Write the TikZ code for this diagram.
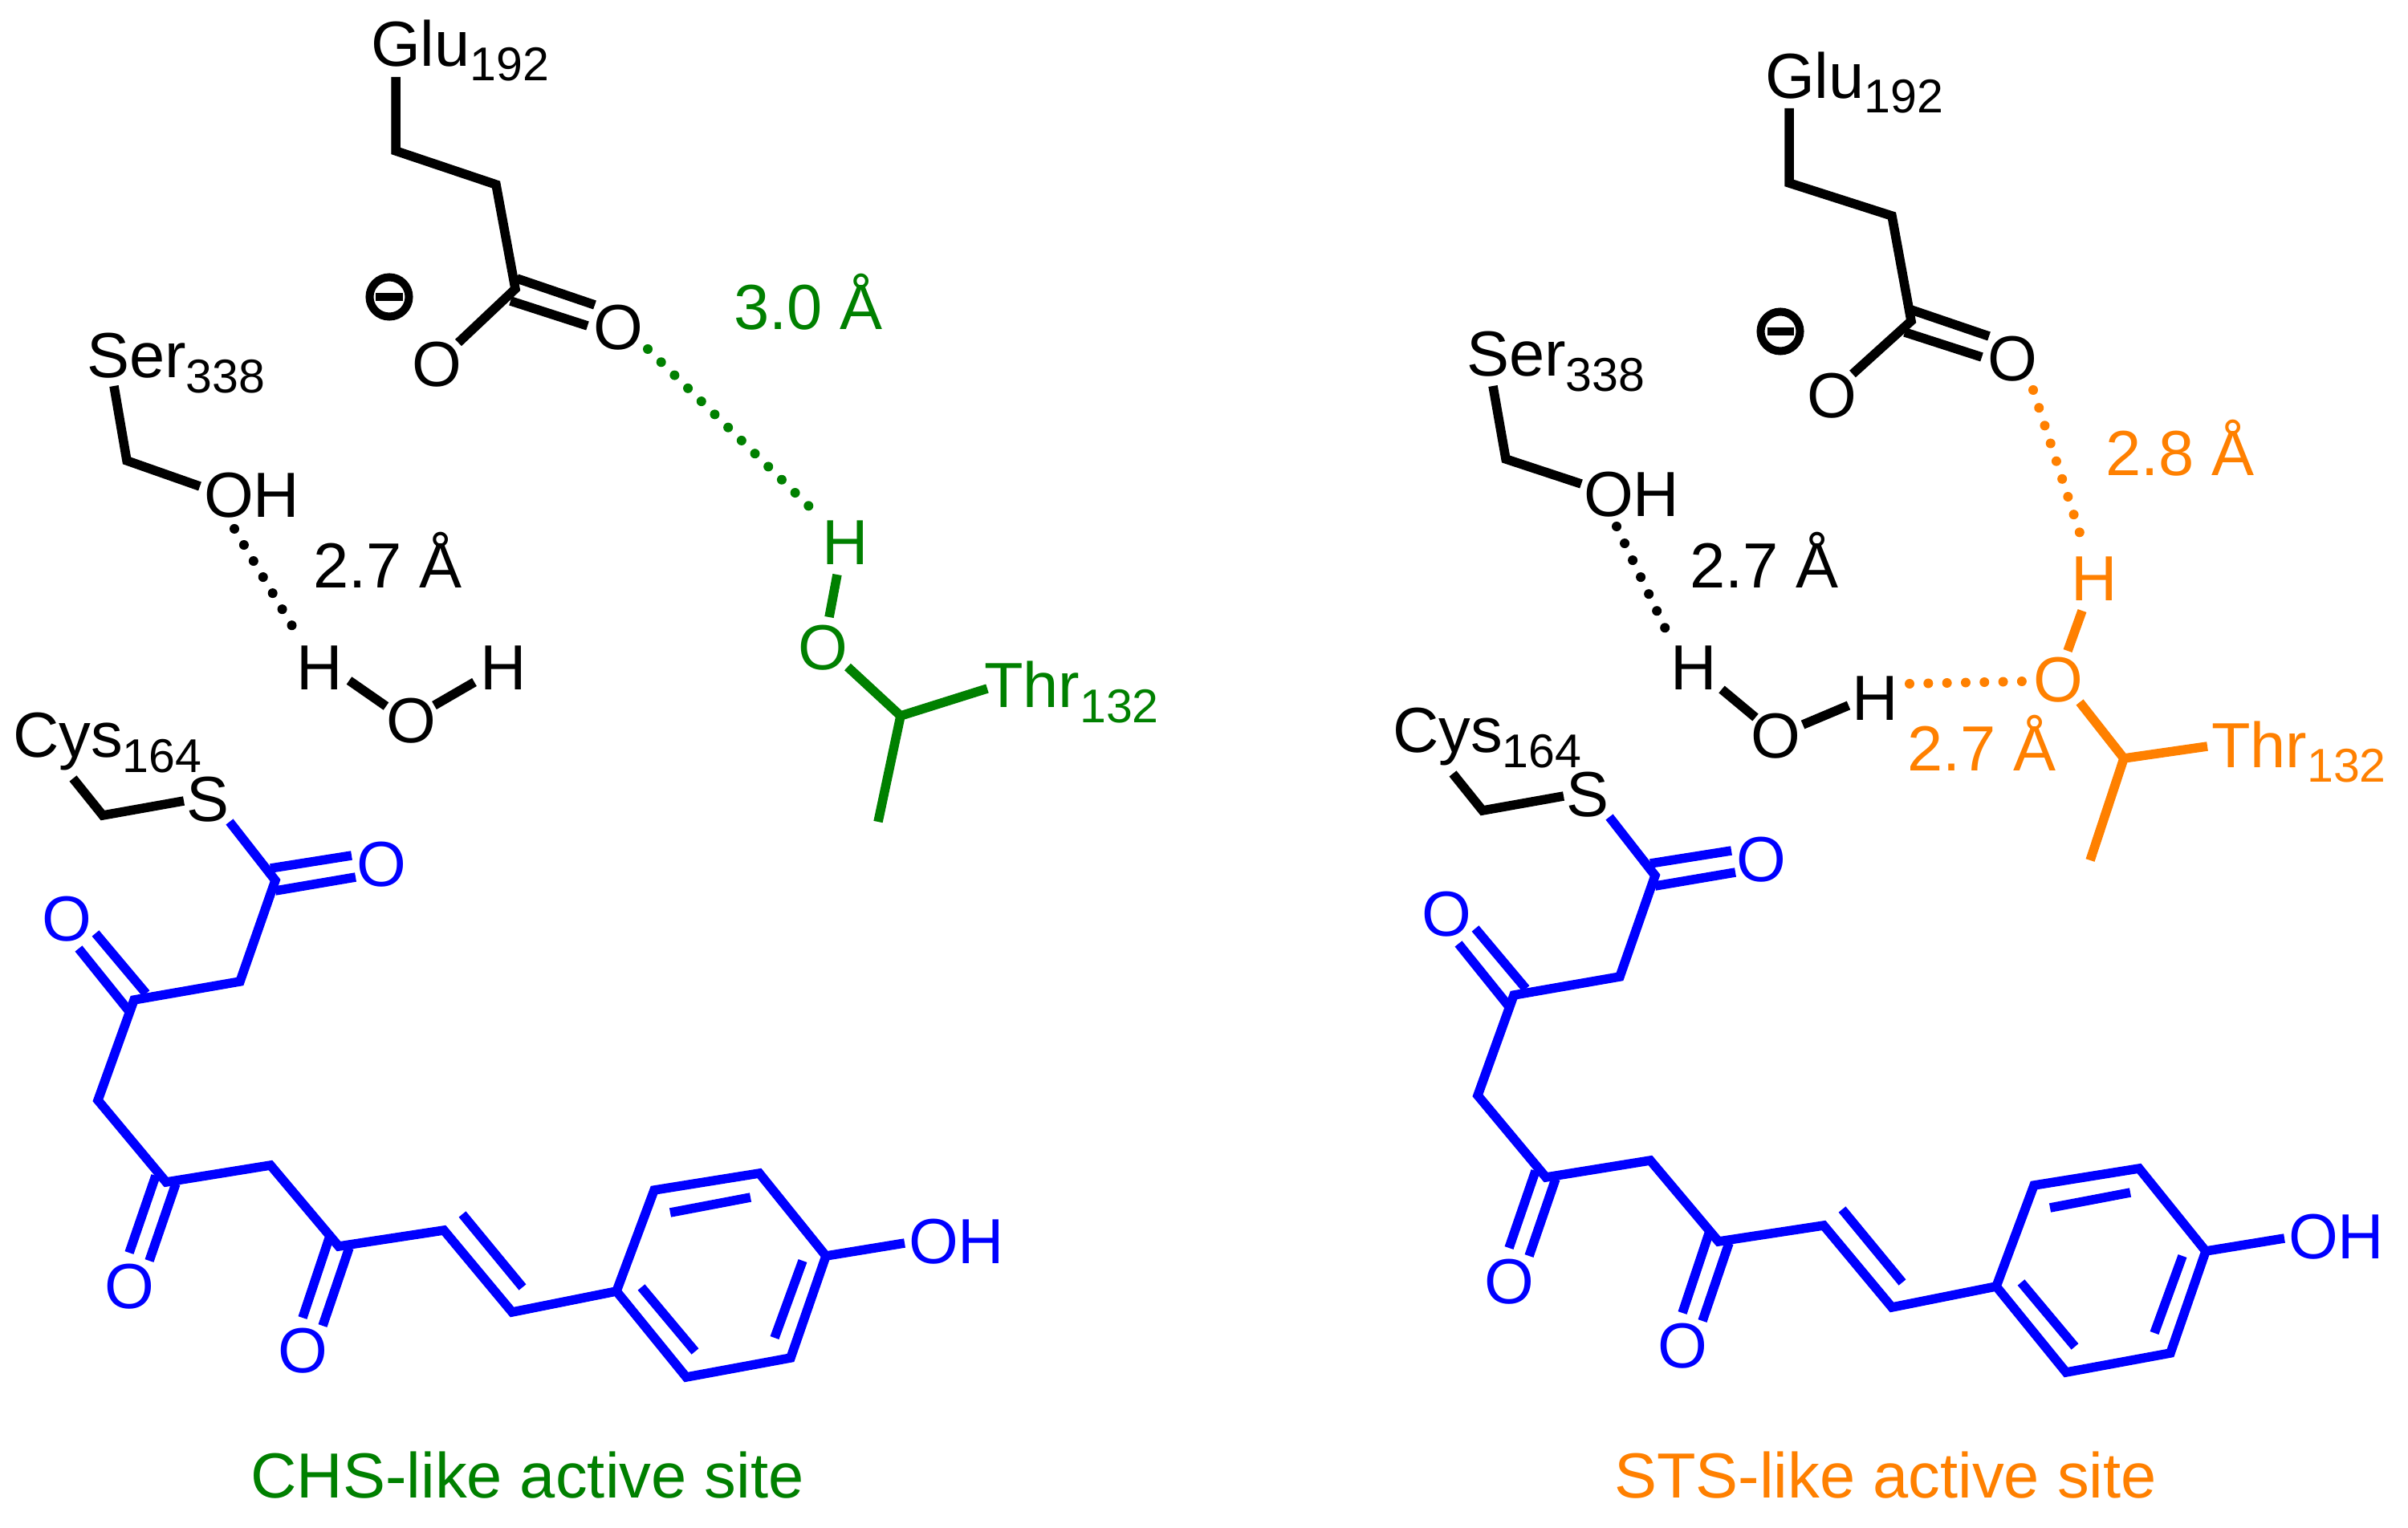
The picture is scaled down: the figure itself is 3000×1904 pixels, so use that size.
\documentclass[tikz,border=0pt]{standalone}
\usepackage{fontspec}
\setmainfont{Liberation Sans}
\definecolor{chsgreen}{RGB}{0,128,0}
\definecolor{stsorange}{RGB}{255,128,0}
\definecolor{chainblue}{RGB}{0,0,255}
\newcommand{\subn}[1]{\raisebox{-0.18cm}{\fontsize{16.8}{18}\selectfont #1}}
\tikzset{
  bond/.style={line width=0.115cm,line cap=butt,line join=miter},
  hbond/.style={line width=0.12cm,line cap=round,dash pattern=on 0pt off 0.233cm},
  lab/.style={inner sep=0pt,outer sep=0pt,font=\fontsize{22.6}{26}\selectfont},
  txt/.style={lab,anchor=base west},
  atom/.style={lab,anchor=center},
  caption/.style={lab,anchor=base},
  minuscirc/.style={circle,draw=black,line width=0.1cm,minimum size=0.49cm,inner sep=0pt,font=\fontsize{1}{1}\selectfont},
}
\newcommand{\bluechain}[3]{%
\begin{scope}[shift={(#2,#3)},chainblue]
  \foreach \nm/\xx/\yy in {
    sb/286/1024, c1/343/1097, da1/337/1082, db1/438/1066, da2/343/1110, db2/443/1093,
    c2/299/1223, c3/167/1246, ea1/98/1182, eb1/160/1259, ea2/119/1163, eb2/182/1238,
    c4/122/1371, c5/207/1473, c6/337/1452, c7/422/1553, c8/553/1533, c9/638/1635,
    r1/768/1609, r2/815/1483, r3/946/1462, r4/1029/1565, r5/985/1692, r6/855/1716,
    oh/1127/1549, f1/194/1465, f2/161/1561, f3/219/1475, f4/186/1571,
    g1/410/1543, g2/377/1642, g3/435/1555, g4/402/1652,
    i1/835/1511, i2/935/1492, i3/799/1604, i4/866/1684, i5/1000/1571, i6/965/1667,
    v1/576/1513, v2/651/1604}
    {\coordinate (#1\nm) at (\xx,\yy);}
  \node[atom] (#1o1) at (475,1077) {O};
  \node[atom] (#1o3) at (83,1145) {O};
  \node[atom] (#1o5) at (161,1603) {O};
  \node[atom] (#1o7) at (377,1683) {O};
  \node[txt] (#1ohl) at (1132,1574) {OH};
  \draw[bond] (#1sb) -- (#1c1) -- (#1c2) -- (#1c3) -- (#1c4) -- (#1c5) -- (#1c6) -- (#1c7) -- (#1c8) -- (#1c9) -- (#1r1) -- (#1r2) -- (#1r3) -- (#1r4) -- (#1r5) -- (#1r6) -- (#1r1);
  \draw[bond] (#1da1) -- (#1db1);
  \draw[bond] (#1da2) -- (#1db2);
  \draw[bond] (#1ea1) -- (#1eb1);
  \draw[bond] (#1ea2) -- (#1eb2);
  \draw[bond] (#1f1) -- (#1f2);
  \draw[bond] (#1f3) -- (#1f4);
  \draw[bond] (#1g1) -- (#1g2);
  \draw[bond] (#1g3) -- (#1g4);
  \draw[bond] (#1i1) -- (#1i2);
  \draw[bond] (#1i3) -- (#1i4);
  \draw[bond] (#1i5) -- (#1i6);
  \draw[bond] (#1v1) -- (#1v2);
  \draw[bond] (#1r4) -- (#1oh);
\end{scope}
\begin{scope}[shift={(#2,#3)}]
  \coordinate (#1ca) at (91,970);
  \coordinate (#1cb) at (128,1016);
  \coordinate (#1cc) at (229,998);
  \node[txt] (#1cys) at (16,944) {Cys\subn{164}};
  \node[atom] (#1s) at (259,996) {S};
  \draw[bond] (#1ca) -- (#1cb) -- (#1cc);
\end{scope}}
\begin{document}
\begin{tikzpicture}[x=0.01cm,y=-0.01cm]
\useasboundingbox (0,0) rectangle (3000,1904);
\fill[white] (0,0) rectangle (3000,1904);

% ---------- left panel ----------
\bluechain{L}{0}{0}
\foreach \nm/\xx/\yy in {
  g1/493/96, g2/493/188, g3/618/230, g4/642/360, g5/571/427,
  d1/644/347, d2/741/380, d3/636/375, d4/732/406,
  s1/142/481, s2/158/574, s3/249/606,
  hd1/292/659, hd2/364/780,
  w1/435/848, w2/481/880, w3/541/879, w4/591/850,
  gd1/807/435, gd2/1008/631,
  t1/1043/716, t2/1033/769, t3/1056/831, t4/1122/892, t5/1230/858, t6/1094/1024}
  {\coordinate (\nm) at (\xx,\yy);}
\node[txt] (glu) at (462,83) {Glu\subn{192}};
\node[atom] (oa) at (544,454) {O};
\node[atom] (ob) at (770,408) {O};
\node[minuscirc] (minus) at (485,370) {\rule{0.33cm}{0.1cm}};
\node[txt] (ser) at (108,471) {Ser\subn{338}};
\node[txt] (ohs) at (254,645) {OH};
\node[txt] (d27) at (390,733) {2.7 Å};
\node[atom] (h1) at (398,832) {H};
\node[atom] (ow) at (512,898) {O};
\node[atom] (h2) at (627,832) {H};
\draw[bond] (g1) -- (g2) -- (g3) -- (g4) -- (g5);
\draw[bond] (d1) -- (d2);
\draw[bond] (d3) -- (d4);
\draw[bond] (s1) -- (s2) -- (s3);
\draw[hbond] (hd1) -- (hd2);
\draw[bond] (w1) -- (w2);
\draw[bond] (w3) -- (w4);
\begin{scope}[chsgreen]
  \node[txt] (d30) at (914,411) {3.0 Å};
  \node[atom] (ht) at (1053,676) {H};
  \node[atom] (ot) at (1025,807) {O};
  \node[txt] (thr) at (1226,882) {Thr\subn{132}};
  \draw[hbond] (gd1) -- (gd2);
  \draw[bond] (t1) -- (t2);
  \draw[bond] (t3) -- (t4) -- (t5);
  \draw[bond] (t4) -- (t6);
  \node[caption] (chs) at (657,1866) {CHS-like active site};
\end{scope}

% ---------- right panel ----------
\bluechain{R}{1719}{-6}
\foreach \nm/\xx/\yy in {
  G1/2229/135, G2/2229/228, G3/2357/269, G4/2381/400, G5/2308/466,
  D1/2381/386, D2/2478/419, D3/2373/414, D4/2469/445,
  S1/1860/481, S2/1876/572, S3/1970/603,
  HD1/2014/656, HD2/2075/784,
  W1/2145/859, W2/2187/894, W3/2246/903, W4/2303/879,
  OD1/2533/486, OD2/2591/664, OD3/2379/852, OD4/2520/849,
  T1/2594/761, T2/2576/811, T3/2591/875, T4/2646/945, T5/2750/930, T6/2604/1072}
  {\coordinate (\nm) at (\xx,\yy);}
\node[txt] (Glu) at (2199,123) {Glu\subn{192}};
\node[atom] (Oa) at (2282,493) {O};
\node[atom] (Ob) at (2507,447) {O};
\node[minuscirc] (Minus) at (2218,413) {\rule{0.33cm}{0.1cm}};
\node[txt] (Ser) at (1827,469) {Ser\subn{338}};
\node[txt] (Ohs) at (1973,644) {OH};
\node[txt] (D27) at (2105,733) {2.7 Å};
\node[atom] (H1) at (2110,832) {H};
\node[atom] (Ow) at (2212,917) {O};
\node[atom] (H2) at (2336,870) {H};
\draw[bond] (G1) -- (G2) -- (G3) -- (G4) -- (G5);
\draw[bond] (D1) -- (D2);
\draw[bond] (D3) -- (D4);
\draw[bond] (S1) -- (S2) -- (S3);
\draw[hbond] (HD1) -- (HD2);
\draw[bond] (W1) -- (W2);
\draw[bond] (W3) -- (W4);
\begin{scope}[stsorange]
  \node[txt] (D28) at (2623,593) {2.8 Å};
  \node[txt] (D27b) at (2376,961) {2.7 Å};
  \node[atom] (Ht) at (2609,721) {H};
  \node[atom] (Ot) at (2564,847) {O};
  \node[txt] (Thr) at (2755,956) {Thr\subn{132}};
  \draw[hbond] (OD1) -- (OD2);
  \draw[hbond] (OD3) -- (OD4);
  \draw[bond] (T1) -- (T2);
  \draw[bond] (T3) -- (T4) -- (T5);
  \draw[bond] (T4) -- (T6);
  \node[caption] (sts) at (2349,1866) {STS-like active site};
\end{scope}
\end{tikzpicture}
\end{document}
